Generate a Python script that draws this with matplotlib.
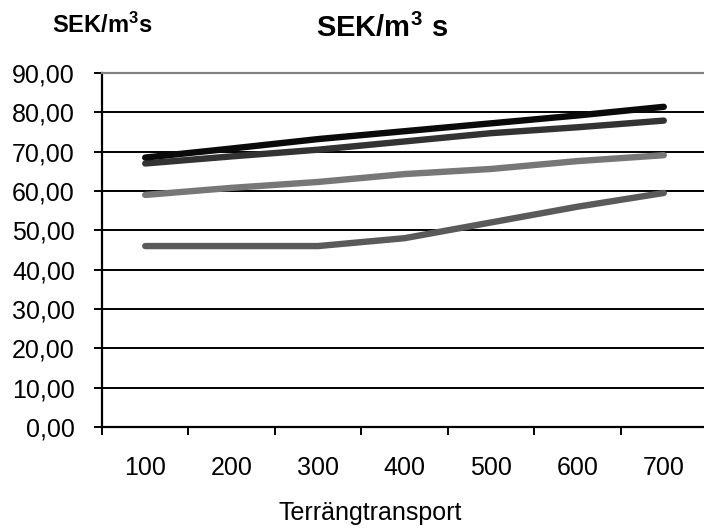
import matplotlib.pyplot as plt
import numpy as np

plt.rcParams['font.family'] = ['Liberation Sans', 'DejaVu Sans']
plt.rcParams['mathtext.fontset'] = 'custom'
plt.rcParams['mathtext.rm'] = 'Liberation Sans'
plt.rcParams['mathtext.bf'] = 'Liberation Sans:bold'

# data
distances = ['100', '200', '300', '400', '500', '600', '700']
serie_1 = [68.5, 70.8, 73.2, 75.2, 77.2, 79.2, 81.4]
serie_2 = [67.0, 68.8, 70.5, 72.6, 74.7, 76.2, 77.9]
serie_3 = [59.0, 60.8, 62.3, 64.3, 65.6, 67.6, 69.1]
serie_4 = [46.0, 46.0, 46.0, 48.0, 52.0, 56.0, 59.5]
y_ticks = [0, 10, 20, 30, 40, 50, 60, 70, 80, 90]
y_labels = ['0,00', '10,00', '20,00', '30,00', '40,00', '50,00',
            '60,00', '70,00', '80,00', '90,00']

fig = plt.figure(figsize=(7.04, 5.31), dpi=100)
ax = fig.add_axes([102 / 704, 1 - 427 / 531, 605 / 704, 354 / 531])

x = np.arange(len(distances))
ax.set_xlim(-0.5, len(distances) - 0.5)
ax.set_ylim(0, 90)

# gridlines behind the series
for v in y_ticks[1:-1]:
    ax.axhline(v, color='black', lw=1.4, zorder=1)

lw = 4.6
ax.plot(x, serie_4, color='#5a5a5a', lw=lw, solid_capstyle='round', zorder=3)
ax.plot(x, serie_3, color='#777777', lw=lw, solid_capstyle='round', zorder=3)
ax.plot(x, serie_2, color='#333333', lw=lw, solid_capstyle='round', zorder=3)
ax.plot(x, serie_1, color='#0a0a0a', lw=lw, solid_capstyle='round', zorder=4)

ax.set_yticks(y_ticks)
ax.set_yticklabels(y_labels, fontsize=18)
ax.tick_params(axis='y', direction='out', length=6, width=1.4, pad=13.5)

# tick marks at category boundaries, labels at centres
ax.set_xticks(np.arange(-0.5, len(distances), 1.0))
ax.set_xticklabels([])
ax.tick_params(axis='x', which='major', direction='out', length=6, width=1.4)
ax.set_xticks(x, minor=True)
ax.set_xticklabels(distances, minor=True, fontsize=18)
ax.tick_params(axis='x', which='minor', length=0, pad=21)

ax.spines['top'].set_color('#808080')
ax.spines['top'].set_linewidth(1.6)
ax.spines['right'].set_visible(False)
ax.spines['left'].set_linewidth(1.6)
ax.spines['bottom'].set_linewidth(1.6)

fig.text(370 / 704, 1 - 520 / 531, 'Terrängtransport', fontsize=18,
         ha='center', va='baseline')
fig.text(102 / 704, 1 - 33 / 531, r'$\mathbf{SEK/m^3s}$', fontsize=17,
         ha='center', va='baseline')
fig.text(382 / 704, 1 - 37 / 531, r'$\mathbf{SEK/m^3\ s}$', fontsize=21,
         ha='center', va='baseline')

fig.savefig('out.png', dpi=100)
